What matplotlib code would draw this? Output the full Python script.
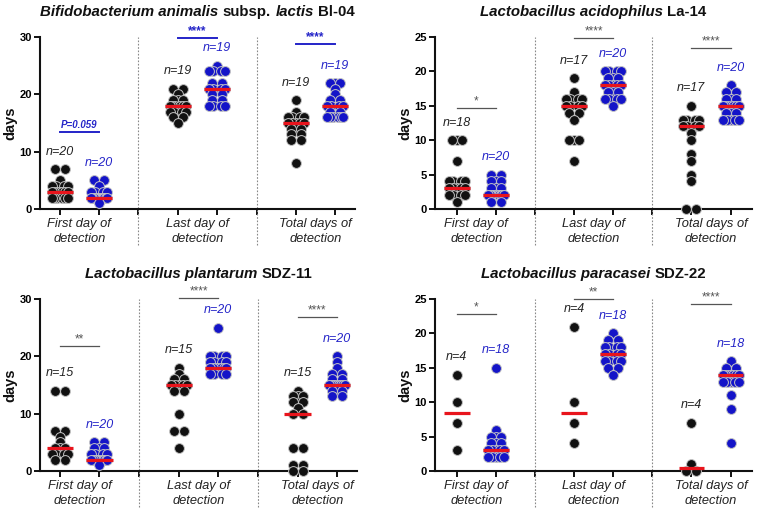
import numpy as np
import matplotlib
matplotlib.use('Agg')
import matplotlib.pyplot as plt
import matplotlib.transforms as mtransforms

plt.rcParams['font.family'] = ['Liberation Sans', 'DejaVu Sans']

# Bifidobacterium animalis subsp. lactis Bl-04
bl04_first_k = [7, 7, 5, 4, 4, 4, 4, 3, 3, 3, 3, 3, 3, 3, 2, 2, 2, 2, 2, 2]
bl04_first_b = [5, 5, 4, 3, 3, 3, 3, 2, 2, 2, 2, 2, 2, 2, 2, 2, 2, 2, 2, 1]
bl04_last_k = [21, 21, 20, 19, 19, 19, 18, 18, 18, 18, 18, 18, 17, 17, 17, 17, 16, 16, 15]
bl04_last_b = [25, 24, 24, 24, 24, 22, 22, 21, 21, 21, 21, 20, 20, 19, 19, 18, 18, 18, 18]
bl04_total_k = [19, 17, 16, 16, 16, 16, 15, 15, 15, 15, 15, 14, 14, 14, 13, 13, 12, 12, 8]
bl04_total_b = [22, 22, 22, 21, 20, 19, 19, 18, 18, 18, 18, 17, 17, 16, 16, 16, 16, 16, 16]

# Lactobacillus acidophilus La-14
la14_first_k = [10, 10, 10, 7, 4, 4, 4, 4, 3, 3, 3, 3, 3, 2, 2, 2, 2, 1]
la14_first_b = [5, 5, 4, 4, 4, 3, 3, 3, 2, 2, 2, 2, 2, 2, 2, 2, 2, 2, 1, 1]
la14_last_k = [19, 17, 16, 16, 16, 16, 15, 15, 15, 15, 14, 14, 13, 10, 10, 10, 7]
la14_last_b = [20, 20, 20, 20, 19, 19, 19, 18, 18, 18, 18, 18, 17, 17, 17, 16, 16, 16, 16, 15]
la14_total_k = [15, 13, 13, 13, 13, 12, 12, 12, 12, 11, 10, 8, 7, 5, 4, 0, 0]
la14_total_b = [18, 17, 17, 16, 16, 16, 15, 15, 15, 15, 15, 15, 14, 14, 14, 13, 13, 13, 13, 13]

# Lactobacillus plantarum SDZ-11
sdz11_first_k = [14, 14, 7, 7, 6, 5, 4, 4, 4, 3, 3, 3, 3, 2, 2]
sdz11_first_b = [5, 5, 4, 4, 4, 3, 3, 3, 3, 2, 2, 2, 2, 2, 2, 2, 2, 2, 2, 1]
sdz11_last_k = [18, 17, 16, 16, 15, 15, 15, 15, 15, 14, 14, 10, 7, 7, 4]
sdz11_last_b = [25, 20, 20, 20, 20, 19, 19, 19, 19, 18, 18, 18, 18, 18, 18, 18, 17, 17, 17, 17]
sdz11_total_k = [14, 13, 13, 13, 12, 12, 11, 10, 10, 4, 4, 1, 1, 0, 0]
sdz11_total_b = [20, 19, 18, 17, 17, 16, 16, 15, 15, 15, 15, 15, 15, 15, 15, 14, 14, 14, 13, 13]

# Lactobacillus paracasei SDZ-22
sdz22_first_k = [14, 10, 7, 3]
sdz22_first_b = [15, 6, 5, 5, 5, 4, 4, 4, 3, 3, 3, 3, 3, 2, 2, 2, 2, 2]
sdz22_last_k = [21, 10, 7, 4]
sdz22_last_b = [20, 19, 19, 18, 18, 18, 18, 17, 17, 17, 17, 16, 16, 16, 16, 15, 15, 14]
sdz22_total_k = [7, 1, 0, 0]
sdz22_total_b = [16, 15, 15, 14, 14, 14, 14, 14, 14, 14, 13, 13, 13, 13, 13, 11, 9, 4]

categories = ['First day of\ndetection', 'Last day of\ndetection', 'Total days of\ndetection']

bl04_sig = ['P=0.059', '****', '****']
bl04_sig_y = [13.4, 29.8, 28.8]
la14_sig = ['*', '****', '****']
la14_sig_y = [14.7, 24.8, 23.4]
sdz11_sig = ['**', '****', '****']
sdz11_sig_y = [21.8, 30.2, 26.9]
sdz22_sig = ['*', '**', '****']
sdz22_sig_y = [22.8, 25.0, 24.3]

BLACK = '#111111'
BLUE = '#1414c8'
BLUE_TXT = '#2424c8'
RED = '#e8141c'

W, H = 758, 512
fig = plt.figure(figsize=(W / 100, H / 100), dpi=100)

panels = [
    dict(box=(40, 355, 37, 209), xlim=(-0.5, 7.5), ymax=30, ystep=10,
         title=[('Bifidobacterium animalis', 'italic'), ('subsp.', 'normal'),
                ('lactis', 'italic'), ('Bl-04', 'normal')],
         data=[bl04_first_k, bl04_first_b, bl04_last_k, bl04_last_b, bl04_total_k, bl04_total_b],
         sig=bl04_sig, sig_y=bl04_sig_y, sig_color=BLUE_TXT),
    dict(box=(435, 752, 37, 209), xlim=(-0.56, 7.55), ymax=25, ystep=5,
         title=[('Lactobacillus acidophilus', 'italic'), ('La-14', 'normal')],
         data=[la14_first_k, la14_first_b, la14_last_k, la14_last_b, la14_total_k, la14_total_b],
         sig=la14_sig, sig_y=la14_sig_y, sig_color='#555555'),
    dict(box=(40, 357, 299, 471), xlim=(-0.5, 7.5), ymax=30, ystep=10,
         title=[('Lactobacillus plantarum', 'italic'), ('SDZ-11', 'normal')],
         data=[sdz11_first_k, sdz11_first_b, sdz11_last_k, sdz11_last_b, sdz11_total_k, sdz11_total_b],
         sig=sdz11_sig, sig_y=sdz11_sig_y, sig_color='#555555'),
    dict(box=(435, 752, 299, 471), xlim=(-0.56, 7.55), ymax=25, ystep=5,
         title=[('Lactobacillus paracasei', 'italic'), ('SDZ-22', 'normal')],
         data=[sdz22_first_k, sdz22_first_b, sdz22_last_k, sdz22_last_b, sdz22_total_k, sdz22_total_b],
         sig=sdz22_sig, sig_y=sdz22_sig_y, sig_color='#555555'),
]

xpos = [0, 1, 3, 4, 6, 7]


def swarm_offsets(vals, px_per_unit, step=5.0, cap=8.0):
    vals = np.asarray(vals)
    off = np.zeros(len(vals))
    for v in np.unique(vals):
        idx = np.where(vals == v)[0]
        k = len(idx)
        slots = [s * j for j in range(1, k // 2 + 1) for s in (-1, 1)]
        if k % 2:
            slots = [0] + slots
        slots = np.array(slots, float) * step
        m = np.abs(slots).max()
        if m > cap:
            slots *= cap / m
        off[idx] = slots / px_per_unit
    return off


def rich_title(cx, cy, pieces, size=10.8):
    r = fig.canvas.get_renderer()
    probe1 = fig.text(0, 0, 'x x', fontsize=size, fontweight='bold')
    probe2 = fig.text(0, 0, 'xx', fontsize=size, fontweight='bold')
    sp = probe1.get_window_extent(r).width - probe2.get_window_extent(r).width
    probe1.remove()
    probe2.remove()
    texts = [fig.text(0, cy, s, fontsize=size, fontweight='bold', style=st,
                      ha='left', va='center', color='#111111') for s, st in pieces]
    widths = [t.get_window_extent(r).width for t in texts]
    x = cx - (sum(widths) + sp * (len(texts) - 1)) / 2
    for t, w in zip(texts, widths):
        t.set_x(x / W)
        x += w + sp


for p in panels:
    l, r, t, b = p['box']
    ax = fig.add_axes([l / W, 1 - b / H, (r - l) / W, (b - t) / H])
    ax.set_xlim(*p['xlim'])
    ax.set_ylim(0, p['ymax'])
    ax.spines['top'].set_visible(False)
    ax.spines['right'].set_visible(False)
    for s in ('left', 'bottom'):
        ax.spines[s].set_linewidth(1.5)
        ax.spines[s].set_color('#111111')
    ax.set_xticks(range(8))
    ax.tick_params(axis='x', length=4, width=1.4, labelbottom=False, color='#111111')
    ax.set_yticks(np.arange(0, p['ymax'] + 1, p['ystep']))
    ax.tick_params(axis='y', length=4, width=1.4, labelsize=8, pad=2, color='#111111')
    for lab in ax.get_yticklabels():
        lab.set_fontweight('bold')
    ax.text(-30 / (r - l), 0.5, 'days', transform=ax.transAxes, rotation=90,
            ha='center', va='center', fontsize=10.5, fontweight='bold', color='#111111')

    ppu = (r - l) / (p['xlim'][1] - p['xlim'][0])
    trans = mtransforms.blended_transform_factory(ax.transData, ax.transAxes)
    for sx in (2, 5):
        ax.plot([sx, sx], [-0.21, 1.0], transform=trans, color='#888888', lw=0.8,
                ls=(0, (1.5, 1.5)), clip_on=False)

    for i, (x, vals) in enumerate(zip(xpos, p['data'])):
        col = BLACK if i % 2 == 0 else BLUE
        off = swarm_offsets(vals, ppu)
        ax.scatter(np.array(x + off), vals, s=50, c=col, edgecolors='#c4c4c4',
                   linewidths=0.7, zorder=3, clip_on=False)
        med = np.median(vals)
        ax.plot([x - 0.33, x + 0.33], [med, med], color=RED, lw=2.3, zorder=5,
                solid_capstyle='butt', clip_on=False)
        ax.annotate(f'n={len(vals)}', (x, max(vals)), xytext=(0, 12.5),
                    textcoords='offset points', ha='center', va='center',
                    fontsize=9, style='italic',
                    color='#222222' if i % 2 == 0 else BLUE_TXT)

    for j, cat in enumerate(categories):
        x0, x1 = xpos[2 * j], xpos[2 * j + 1]
        ax.annotate(cat, ((x0 + x1) / 2, 0), xytext=(0, -6.5), textcoords='offset points',
                    ha='center', va='top', fontsize=9.3, style='italic', color='#222222',
                    linespacing=1.3, annotation_clip=False)
        y = p['sig_y'][j]
        blue_sig = p['sig_color'] == BLUE_TXT
        ax.plot([x0, x1], [y, y], color=p['sig_color'], lw=1.4 if blue_sig else 0.9,
                clip_on=False)
        txt = p['sig'][j]
        ax.annotate(txt, ((x0 + x1) / 2, y), xytext=(0, 1.5 if txt.startswith('P') else 0.5),
                    textcoords='offset points', ha='center', va='bottom',
                    fontsize=7 if txt.startswith('P') else 8.5,
                    fontweight='bold' if blue_sig else 'normal',
                    style='italic' if txt.startswith('P') else 'normal',
                    color=p['sig_color'], annotation_clip=False)

    title_y = 1 - (t - 25) / H
    rich_title((l + r) / 2, title_y, p['title'])

fig.savefig('out.png', dpi=100)
